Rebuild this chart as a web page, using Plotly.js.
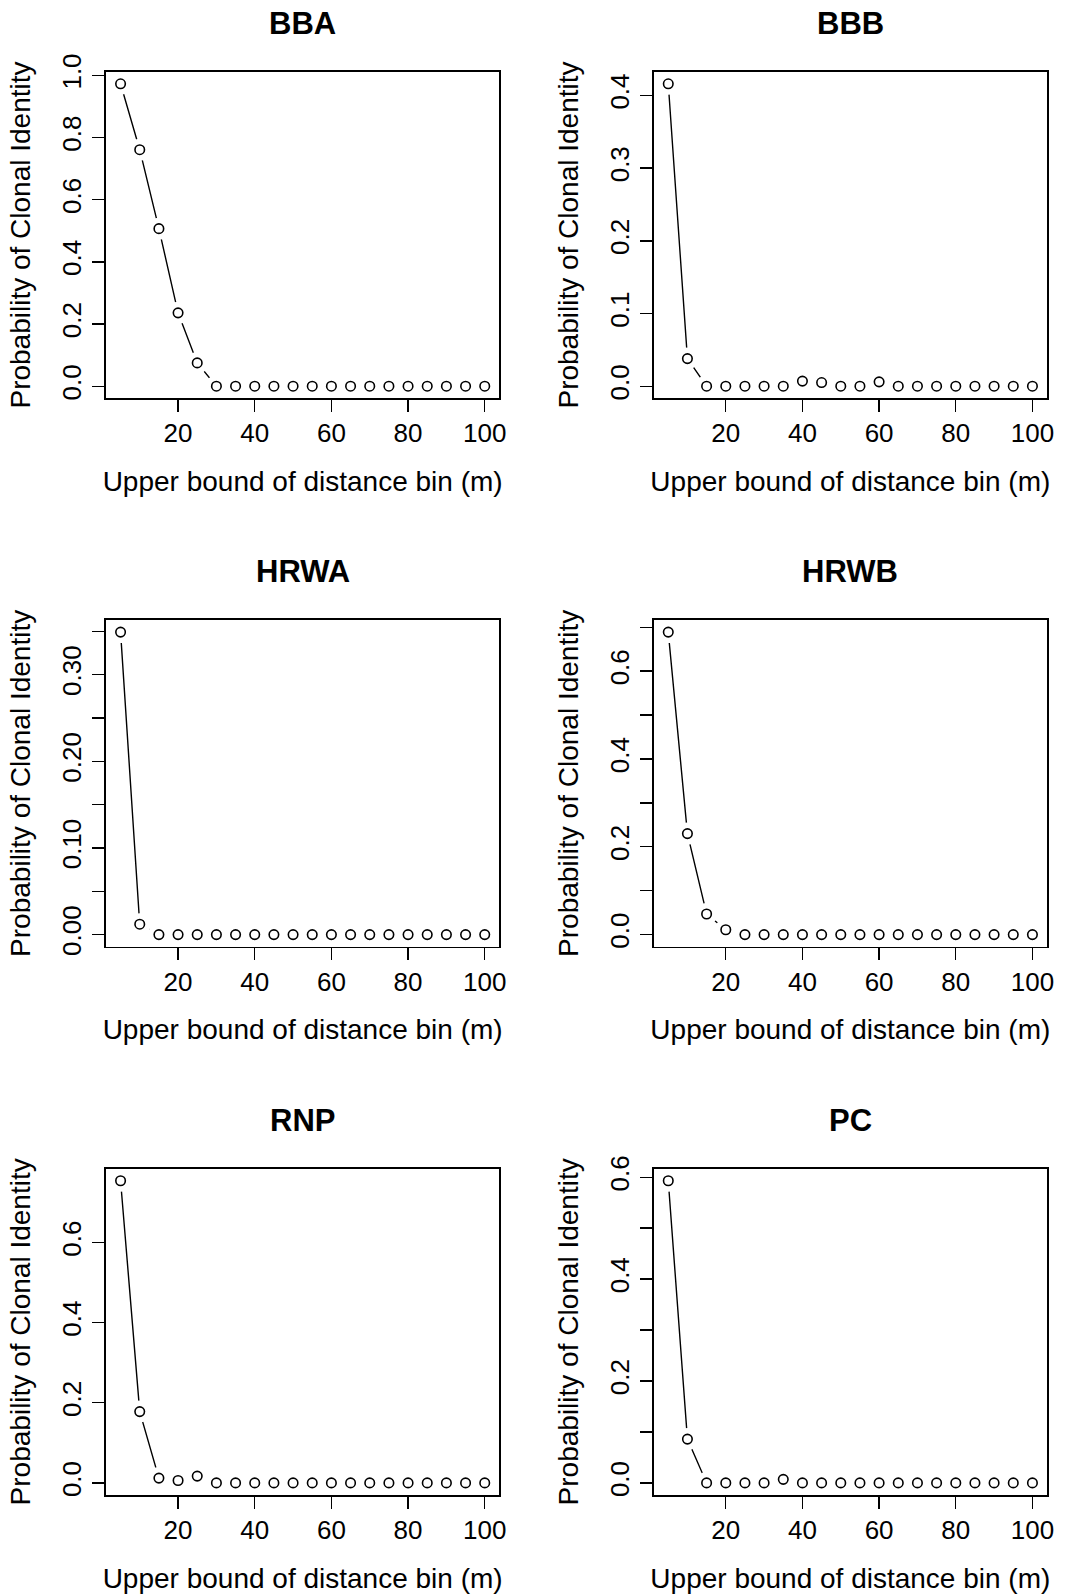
<!DOCTYPE html>
<html>
<head>
<meta charset="utf-8">
<script src="https://cdn.plot.ly/plotly-3.0.1.min.js"></script>
<style>html,body{margin:0;padding:0;background:#fff;}#chart{width:1067px;height:1595px;}</style>
</head>
<body>
<div id="chart"></div>
<script>
// ---- data ----
const distanceBins = [5,10,15,20,25,30,35,40,45,50,55,60,65,70,75,80,85,90,95,100];
const siteNames = ["BBA","BBB","HRWA","HRWB","RNP","PC"];
const probBBA  = [0.973,0.761,0.507,0.236,0.075,0,0,0,0,0,0,0,0,0,0,0,0,0,0,0];
const probBBB  = [0.416,0.038,0,0,0,0,0,0.007,0.005,0,0,0.006,0,0,0,0,0,0,0,0];
const probHRWA = [0.349,0.012,0,0,0,0,0,0,0,0,0,0,0,0,0,0,0,0,0,0];
const probHRWB = [0.689,0.230,0.047,0.011,0,0,0,0,0,0,0,0,0,0,0,0,0,0,0,0];
const probRNP  = [0.754,0.178,0.012,0.006,0.017,0,0,0,0,0,0,0,0,0,0,0,0,0,0,0];
const probPC   = [0.593,0.086,0,0,0,0,0.007,0,0,0,0,0,0,0,0,0,0,0,0,0];
const xTickVals = [20,40,60,80,100];
const yTickValsBBA  = [0,0.2,0.4,0.6,0.8,1.0];
const yTickTextBBA  = ["0.0","0.2","0.4","0.6","0.8","1.0"];
const yTickValsBBB  = [0,0.1,0.2,0.3,0.4];
const yTickTextBBB  = ["0.0","0.1","0.2","0.3","0.4"];
const yTickValsHRWA = [0,0.05,0.10,0.15,0.20,0.25,0.30,0.35];
const yTickTextHRWA = ["0.00","","0.10","","0.20","","0.30",""];
const yTickValsHRWB = [0,0.1,0.2,0.3,0.4,0.5,0.6,0.7];
const yTickTextHRWB = ["0.0","","0.2","","0.4","","0.6",""];
const yTickValsRNP  = [0,0.2,0.4,0.6];
const yTickTextRNP  = ["0.0","0.2","0.4","0.6"];
const yTickValsPC   = [0,0.1,0.2,0.3,0.4,0.5,0.6];
const yTickTextPC   = ["0.0","","0.2","","0.4","","0.6"];
const xTitle = "Upper bound of distance bin (m)";
const yTitle = "Probability of Clonal Identity";

const series = [probBBA, probBBB, probHRWA, probHRWB, probRNP, probPC];
const yTickVals = [yTickValsBBA, yTickValsBBB, yTickValsHRWA, yTickValsHRWB, yTickValsRNP, yTickValsPC];
const yTickText = [yTickTextBBA, yTickTextBBB, yTickTextHRWA, yTickTextHRWB, yTickTextRNP, yTickTextPC];

// ---- layout geometry ----
const W = 1067, H = 1595;
const colX = [[106, 499.3], [653.7, 1047]];
const rowY = [[71.7, 398.3], [620, 946.7], [1168.7, 1495]];
const FONT = "Liberation Sans, Arial, Helvetica, sans-serif";

const traces = [];
const layout = {
  width: W, height: H,
  margin: {l:0, r:0, t:0, b:0},
  paper_bgcolor: "#fff", plot_bgcolor: "#fff",
  showlegend: false,
  font: {family: FONT, color: "#000", size: 26},
  annotations: []
};

function pad(arr) {
  const mn = Math.min(...arr), mx = Math.max(...arr);
  const d = (mx - mn) * 0.04;
  return [mn - d, mx + d];
}

const xr = pad(distanceBins);

for (let i = 0; i < 6; i++) {
  const col = i % 2, row = Math.floor(i / 2);
  const ax = i === 0 ? "" : String(i + 1);
  const xa = "x" + ax, ya = "y" + ax;
  const xd = [colX[col][0] / W, colX[col][1] / W];
  const yd = [1 - rowY[row][1] / H, 1 - rowY[row][0] / H];

  traces.push({x: distanceBins, y: series[i], xaxis: xa, yaxis: ya, type: "scatter", mode: "lines",
    line: {color: "#000", width: 1.4}, hoverinfo: "skip"});
  traces.push({x: distanceBins, y: series[i], xaxis: xa, yaxis: ya, type: "scatter", mode: "markers",
    marker: {color: "#fff", size: 22, line: {width: 0}}, hoverinfo: "skip"});
  traces.push({x: distanceBins, y: series[i], xaxis: xa, yaxis: ya, type: "scatter", mode: "markers",
    name: siteNames[i],
    marker: {symbol: "circle", color: "#fff", size: 9.5, line: {color: "#000", width: 1.6}}});

  layout["xaxis" + ax] = {
    domain: xd, anchor: ya, range: xr,
    tickvals: xTickVals, ticks: "outside", ticklen: 12, tickwidth: 1.4, tickcolor: "#000",
    showline: true, mirror: true, linecolor: "#000", linewidth: 1.6,
    showgrid: false, zeroline: false,
    tickfont: {size: 26, family: FONT},
    ticklabelstandoff: -1,
    title: {text: xTitle, font: {size: 28, family: FONT}, standoff: 24}
  };
  layout["yaxis" + ax] = {
    domain: yd, anchor: xa, range: pad(series[i]),
    tickvals: yTickVals[i], ticktext: yTickText[i], tickangle: -90,
    ticks: "outside", ticklen: 12, tickwidth: 1.4, tickcolor: "#000",
    showline: true, mirror: true, linecolor: "#000", linewidth: 1.6,
    showgrid: false, zeroline: false,
    tickfont: {size: 26, family: FONT},
    ticklabelstandoff: 1,
    title: {text: yTitle, font: {size: 28, family: FONT}, standoff: 18}
  };
  layout.annotations.push({
    text: "<b>" + siteNames[i] + "</b>", xref: "paper", yref: "paper",
    x: (xd[0] + xd[1]) / 2, y: 1 - (rowY[row][0] - 48.5) / H,
    xanchor: "center", yanchor: "middle", showarrow: false,
    font: {size: 31, family: FONT, color: "#000"}
  });
}

Plotly.newPlot("chart", traces, layout, {staticPlot: true});
</script>
</body>
</html>
